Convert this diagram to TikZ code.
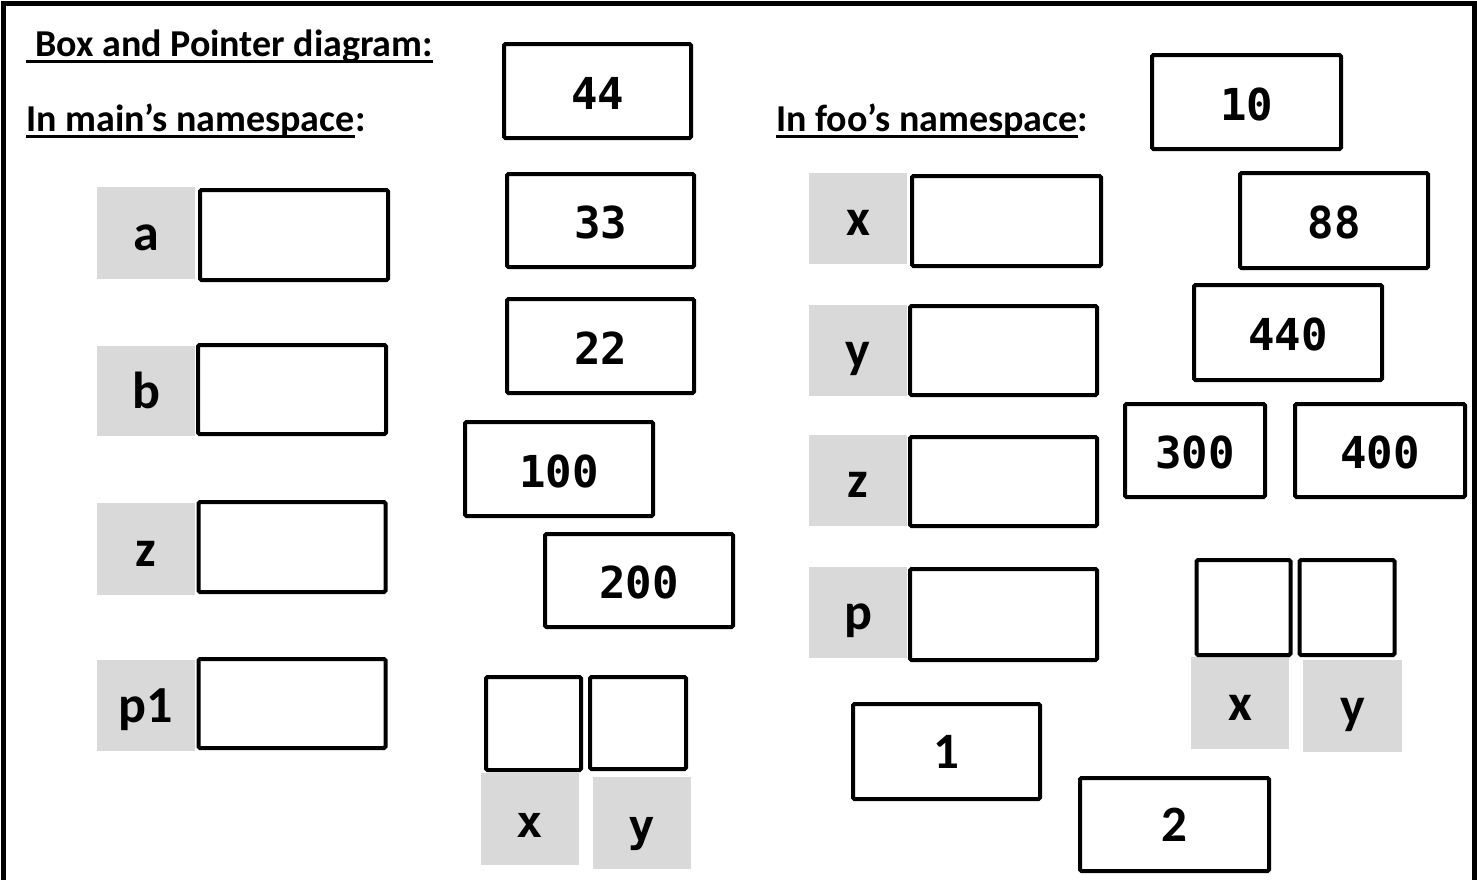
\documentclass[tikz,border=0pt]{standalone}
\usepackage{fontspec}
\setmainfont{Carlito}
\newfontfamily\monofam{DejaVu Sans Mono}
\definecolor{lblgray}{HTML}{D9D9D9}
\begin{document}
\begin{tikzpicture}[x=1pt,y=-1pt,
  vbox/.style={draw, line width=4pt, rounded corners=1.5pt, fill=white, inner sep=0pt,
    font=\monofam\bfseries\fontsize{44}{48}\selectfont, text height=36pt, text depth=0pt},
  cbox/.style={vbox, font=\bfseries\fontsize{51}{55}\selectfont, text height=34pt},
  lbl/.style={fill=lblgray, inner sep=0pt, font=\bfseries\fontsize{52}{56}\selectfont,
    text height=34pt, text depth=0pt},
  mlbl/.style={lbl, font=\monofam\bfseries\fontsize{44}{48}\selectfont, text height=37pt},
  ttl/.style={inner sep=0pt, font=\bfseries\fontsize{38}{42}\selectfont},
  uline/.style={line width=3pt},
  frame/.style={line width=5pt}]
\useasboundingbox (0,0) rectangle (1477,879);
\draw[frame] (3.5,900) -- (3.5,3.5) -- (1474.5,3.5) -- (1474.5,900);

% titles
\node[ttl, anchor=base west] (t1) at (35,56) {Box and Pointer diagram:};
\draw[uline] ([xshift=-9pt,yshift=-5pt]t1.base west) -- ([yshift=-5pt]t1.base east);
\node[ttl, anchor=base west] (t2) at (26,131) {In main’s namespace};
\node[ttl, anchor=base west] (t2c) at (t2.base east) {:};
\draw[uline] ([yshift=-5pt]t2.base west) -- ([yshift=-5pt]t2.base east);
\node[ttl, anchor=base west] (t3) at (776,131) {In foo’s namespace};
\node[ttl, anchor=base west] (t3c) at (t3.base east) {:};
\draw[uline] ([yshift=-5pt]t3.base west) -- ([yshift=-5pt]t3.base east);

% main's namespace
\node[lbl, minimum width=98pt, minimum height=92pt] (ga) at (146,233) {a};
\node[vbox, minimum width=188pt, minimum height=90pt] (ba) at (294,235) {};
\node[lbl, minimum width=98pt, minimum height=90pt] (gb) at (146,391) {b};
\node[vbox, minimum width=188pt, minimum height=89pt] (bb) at (292,389.5) {};
\node[lbl, minimum width=98pt, minimum height=92pt] (gz) at (146,549) {z};
\node[vbox, minimum width=187pt, minimum height=90pt] (bz) at (292,547) {};
\node[lbl, minimum width=98pt, minimum height=91pt] (gp1) at (146,705.5) {p1};
\node[vbox, minimum width=187pt, minimum height=89pt] (bp1) at (292,703.5) {};

\node[vbox, minimum width=187pt, minimum height=94pt] (n44) at (597.5,91) {44};
\node[vbox, minimum width=187pt, minimum height=93pt] (n33) at (600.5,220.5) {33};
\node[vbox, minimum width=187pt, minimum height=94pt] (n22) at (600.5,346) {22};
\node[vbox, minimum width=188pt, minimum height=94pt] (n100) at (559,469) {100};
\node[vbox, minimum width=188pt, minimum height=93pt] (n200) at (639,580.5) {200};

\node[mlbl, minimum width=98pt, minimum height=92pt] (gx) at (530,819) {x};
\node[mlbl, minimum width=98pt, minimum height=92pt] (gy) at (642,823) {y};
\node[vbox, minimum width=95pt, minimum height=93pt] (pl) at (533.5,723.5) {};
\node[vbox, minimum width=96pt, minimum height=92pt] (pr) at (638,723) {};

% foo's namespace
\node[lbl, minimum width=98pt, minimum height=91pt] (fgx) at (858,218.5) {x};
\node[vbox, minimum width=189pt, minimum height=90pt] (fbx) at (1006.5,221) {};
\node[lbl, minimum width=98pt, minimum height=91pt] (fgy) at (858,350.5) {y};
\node[vbox, minimum width=187pt, minimum height=89pt] (fby) at (1003.5,350.5) {};
\node[lbl, minimum width=98pt, minimum height=91pt] (fgz) at (858,480) {z};
\node[vbox, minimum width=187pt, minimum height=89pt] (fbz) at (1003.5,481.5) {};
\node[lbl, minimum width=98pt, minimum height=91pt] (fgp) at (858,612.5) {p};
\node[vbox, minimum width=187pt, minimum height=91pt] (fbp) at (1003.5,614.5) {};

\node[cbox, minimum width=187pt, minimum height=95pt] (n1) at (946.5,751.5) {1};
\node[cbox, minimum width=189pt, minimum height=93pt] (n2) at (1174.5,824.5) {2};

\node[vbox, minimum width=189pt, minimum height=94pt] (n10) at (1246.5,102) {10};
\node[vbox, minimum width=188pt, minimum height=95pt] (n88) at (1334,220.5) {88};
\node[vbox, minimum width=188pt, minimum height=95pt] (n440) at (1288,332.5) {440};
\node[vbox, minimum width=140pt, minimum height=93pt] (n300) at (1195,450.5) {300};
\node[vbox, minimum width=170pt, minimum height=93pt] (n400) at (1380,450.5) {400};

\node[lbl, minimum width=98pt, minimum height=92pt] (fgx2) at (1240,703) {x};
\node[lbl, minimum width=99pt, minimum height=92pt] (fgy2) at (1352.5,706) {y};
\node[vbox, minimum width=94pt, minimum height=95pt] (fpl) at (1243.5,607.5) {};
\node[vbox, minimum width=95pt, minimum height=95pt] (fpr) at (1347,607.5) {};
\end{tikzpicture}
\end{document}
